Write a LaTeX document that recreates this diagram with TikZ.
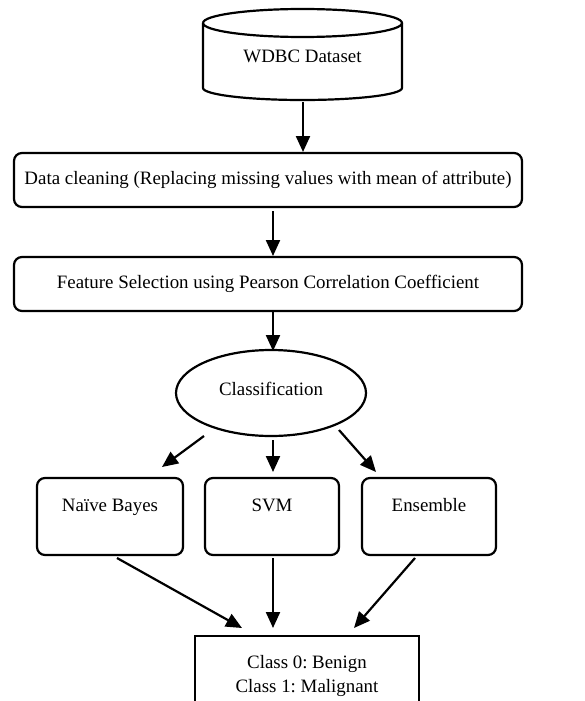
\documentclass[tikz,border=0pt]{standalone}
\usepackage{fontspec}
\setmainfont{Liberation Serif}
\usetikzlibrary{shapes.geometric,arrows.meta}
\frenchspacing
\begin{document}
\begin{tikzpicture}[x=1pt,y=-1pt,
  line width=2.2pt,
  font=\fontsize{18.9}{24}\selectfont,
  flow/.style={-{Triangle[length=16pt,width=14pt]}},
  stepbox/.style={draw,rounded corners=8pt,minimum width=508pt,minimum height=54pt,inner sep=0pt},
  algobox/.style={draw,rounded corners=8pt,minimum width=134pt,inner sep=0pt,text height=33pt,text depth=44pt},
  outbox/.style={draw,minimum width=224pt,minimum height=80pt,inner sep=0pt,align=center,anchor=north}
]
\useasboundingbox (0,0) rectangle (584,701);
\clip (0,0) rectangle (584,701);

% database cylinder
\draw (203,23) arc[start angle=180,end angle=-180,x radius=99.5pt,y radius=14pt];
\draw (203,23) -- (203,88) arc[start angle=180,end angle=360,x radius=99.5pt,y radius=12pt] -- (402,23);
\node (db) at (302.5,56) {WDBC Dataset};
\coordinate (dbbot) at (303,102);

% preprocessing steps
\node[stepbox] (clean) at (268,180) {Data cleaning (Replacing missing values with mean of attribute)};
\node[stepbox] (fsel) at (268,284) {Feature Selection using Pearson Correlation Coefficient};

% classification stage
\node[draw,ellipse,minimum width=190pt,minimum height=86pt,inner sep=0pt] (cls) at (271,393) {};
\node (clslbl) at (271,389) {Classification};

% classifiers
\node[algobox,minimum width=146pt] (nb) at (110,516.5) {Naïve Bayes};
\node[algobox] (svm) at (272,516.5) {SVM};
\node[algobox] (ens) at (429,516.5) {Ensemble};

% output classes
\node[outbox] (out) at (307,635) {Class 0: Benign\\Class 1: Malignant};

% connectors
\draw[flow] (dbbot) -- (303,152);
\draw[flow] (273,211) -- (273,256);
\draw[flow] (273,312) -- (273,351);

\coordinate (c1) at (204,436);
\coordinate (c3) at (339,430);
\draw[flow] (c1) -- (162,467);
\draw[flow] (273,440) -- (273,472);
\draw[flow] (c3) -- (376,472);

\coordinate (n1) at (117,558);
\coordinate (e1) at (415,558);
\draw[flow] (n1) -- (242,628);
\draw[flow] (273,558) -- (273,628);
\draw[flow] (e1) -- (354,628);
\end{tikzpicture}
\end{document}
